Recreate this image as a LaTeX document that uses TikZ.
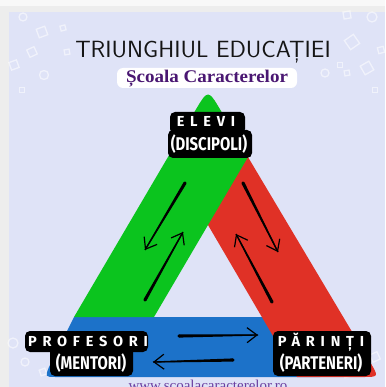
\documentclass[tikz,border=0pt]{standalone}
\usepackage{fontspec}
\usepackage{graphicx}
\usetikzlibrary{arrows.meta,calc}
\newfontfamily\labelfont{Fira Sans}
\newfontfamily\labelspaced{Fira Sans}[LetterSpace=40]
\newfontfamily\serifb{Liberation Serif}
\definecolor{framegray}{HTML}{EDEDED}
\definecolor{lav}{HTML}{DFE3F7}
\definecolor{tgreen}{HTML}{0BC41E}
\definecolor{tred}{HTML}{E03126}
\definecolor{tblue}{HTML}{1C72C9}
\definecolor{tpurple}{HTML}{4A1772}
\definecolor{wpurple}{HTML}{6B3FA0}
\definecolor{titlegray}{HTML}{151515}
\tikzset{
  deco/.style={draw=white, draw opacity=0.55, line width=1.3pt},
  lblbox/.style={fill=black, rounded corners=5pt},
  lbltxt/.style={text=white, inner sep=0pt, anchor=base},
  arr/.style={line width=1.1pt, line cap=round, line join=round,
    -{Straight Barb[length=10pt,width=15pt,line width=1.2pt]}}
}
\newcommand\taperarrow[2]{%
  \fill ($(#1)!1.6pt!90:(#2)$) -- ($(#2)!0.6pt!-90:(#1)$)
    -- ($(#2)!0.6pt!90:(#1)$) -- ($(#1)!1.6pt!-90:(#2)$) -- cycle;
  \fill (#1) circle (1.6pt);
  \draw[arr] (#1) -- (#2);}
\begin{document}
\begin{tikzpicture}[x=1pt,y=-1pt]
\useasboundingbox (0,0) rectangle (385,387);
\fill[framegray] (0,0) rectangle (385,387);
\fill[white!60!framegray] (0,0) rectangle (385,6);
\fill[lav] (9,12) rectangle (385,387);
% decorations
\draw[deco] (23,17) circle (4);
\draw[deco,rotate around={20:(42,32)}] (37.5,27.5) rectangle (46.5,36.5);
\draw[deco,rotate around={15:(63,28)}] (60.5,25.5) rectangle (65.5,30.5);
\draw[deco,rotate around={25:(32,52)}] (28,48) rectangle (36,56);
\draw[deco,rotate around={10:(67,52)}] (64.5,49.5) rectangle (69.5,54.5);
\draw[deco,rotate around={20:(14,65)}] (10,61) rectangle (18,69);
\draw[deco] (44,75) circle (4.5);
\draw[deco] (19.5,87.5) rectangle (24.5,92.5);
\draw[deco,rotate around={10:(347,15)}] (343.5,11.5) rectangle (350.5,18.5);
\draw[deco] (372,17) circle (5);
\draw[deco,rotate around={35:(352,42)}] (346.5,36.5) rectangle (357.5,47.5);
\draw[deco,rotate around={15:(381,50)}] (378,47) rectangle (384,53);
\draw[deco,rotate around={30:(367,68)}] (362,63) rectangle (372,73);
\draw[deco] (337.5,62.5) rectangle (342.5,67.5);
\draw[deco] (325,73) circle (4);
\draw[deco,rotate around={10:(347,73)}] (344.5,70.5) rectangle (349.5,75.5);
\draw[deco] (372.5,87.5) rectangle (377.5,92.5);
\draw[deco] (13,343) circle (5);
\draw[deco] (25,362) circle (4);
\draw[deco,rotate around={20:(43,372)}] (40,369) rectangle (46,375);
\draw[deco,rotate around={25:(375,357)}] (371,353) rectangle (379,361);
\draw[deco,rotate around={15:(347,374)}] (344,371) rectangle (350,377);
% title
\node[anchor=base, inner sep=0pt, text=titlegray] (title) at (203,58)
  {\scalebox{1.05}[1.02]{\sffamily\fontsize{23}{23}\selectfont TRIUNGHIUL EDUCAȚIEI}};
\fill[white, rounded corners=6pt] (117,68) rectangle (297,88);
\node[anchor=base, inner sep=0pt, text=tpurple] (sub) at (207,83)
  {\scalebox{1.12}[1.05]{\serifb\bfseries\fontsize{17}{17}\selectfont Școala Caracterelor}};
% triangle bands
\fill[tblue] (74,317) -- (300,317) -- (320,377) -- (56,377)
  .. controls (45,377) .. (49,367) -- cycle;
\fill[tred] (214,100) -- (370,362) .. controls (379,377) .. (362,377)
  -- (297,377) -- (208,225) -- cycle;
\fill[tgreen] (74,317) -- (195,111) .. controls (208,89) .. (221,111)
  -- (248,157) -- (208,225) -- (154,317) -- cycle;
% arrows
\coordinate (a1s) at (185,183); \coordinate (a1e) at (145,250);
\coordinate (a2s) at (145,300); \coordinate (a2e) at (183,232);
\coordinate (a3s) at (243,183); \coordinate (a3e) at (278,252);
\coordinate (a4s) at (272,302); \coordinate (a4e) at (236,234);
\coordinate (a5s) at (179,336); \coordinate (a5e) at (258,335);
\coordinate (a6s) at (233,360); \coordinate (a6e) at (153,362);
\taperarrow{a1s}{a1e}
\taperarrow{a2s}{a2e}
\taperarrow{a3s}{a3e}
\taperarrow{a4s}{a4e}
\taperarrow{a5s}{a5e}
\taperarrow{a6s}{a6e}
% labels
\fill[lblbox] (170,112) rectangle (245,134);
\fill[lblbox] (168,130) rectangle (252,158);
\node[lbltxt] (elevi) at (206,127) {\labelspaced\bfseries\fontsize{14.5}{14.5}\selectfont ELEVI};
\node[lbltxt] (disc) at (209,151) {\scalebox{0.93}[1.15]{\labelfont\bfseries\fontsize{16}{16}\selectfont (DISCIPOLI)}};
\fill[lblbox] (25,331) rectangle (148,352);
\fill[lblbox] (50,347) rectangle (133,376);
\node[lbltxt] (prof) at (88,346) {\labelspaced\bfseries\fontsize{14.5}{14.5}\selectfont PROFESORI};
\node[lbltxt] (ment) at (91,369) {\scalebox{0.93}[1.15]{\labelfont\bfseries\fontsize{16}{16}\selectfont (MENTORI)}};
\fill[lblbox] (273,331) rectangle (371,376);
\node[lbltxt] (par) at (321,346) {\labelspaced\bfseries\fontsize{14.5}{14.5}\selectfont PĂRINȚI};
\node[lbltxt] (part) at (321,369) {\scalebox{0.93}[1.15]{\labelfont\bfseries\fontsize{16}{16}\selectfont (PARTENERI)}};
% website
\node[anchor=base, inner sep=0pt, text=wpurple] (web) at (208,390)
  {\serifb\fontsize{15}{15}\selectfont www.scoalacaracterelor.ro};
\end{tikzpicture}
\end{document}
